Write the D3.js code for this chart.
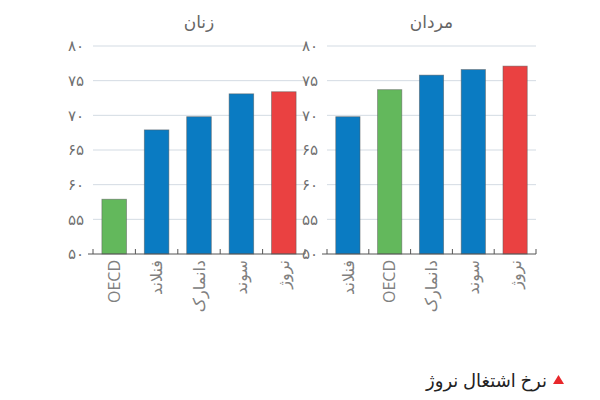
<!DOCTYPE html>
<html><head><meta charset="utf-8">
<script src="https://cdn.jsdelivr.net/npm/d3@7"></script>
<style>
body{margin:0;background:#fff;}
svg{display:block;font-family:"Open Sans","DejaVu Sans",sans-serif;}
</style></head>
<body><svg id="c" width="600" height="400"></svg>
<script>
const womenCategories = ["OECD","فنلاند","دانمارک","سوند","نروژ"];
const womenValues = [57.9, 67.9, 69.8, 73.1, 73.4];
const menCategories = ["فنلاند","OECD","دانمارک","سوند","نروژ"];
const menValues = [69.8, 73.7, 75.8, 76.6, 77.1];
const yTicks = [50,55,60,65,70,75,80];
const yTickLabels = ["۵۰","۵۵","۶۰","۶۵","۷۰","۷۵","۸۰"];
const panelTitles = ["زنان","مردان"];
const legendText = "نرخ اشتغال نروژ";

const colorFor = c => c === "OECD" ? "#63b85c" : (c === "نروژ" ? "#ea4141" : "#0a7bc2");
const svg = d3.select("#c");
const y = d3.scaleLinear().domain([50,80]).range([254,46]);

function panel(x0, x1, cats, vals, title){
  const x = d3.scaleBand().domain(cats).range([x0,x1]).paddingInner(0.42).paddingOuter(0.21);
  const g = svg.append("g");
  g.selectAll("line.grid").data(yTicks.slice(1)).join("line")
    .attr("x1",x0).attr("x2",x1).attr("y1",d=>y(d)).attr("y2",d=>y(d))
    .attr("stroke","#d3dbe3").attr("stroke-width",1);
  g.selectAll("text.yl").data(yTicks).join("text")
    .attr("x",x0-9).attr("y",d=>y(d)).attr("dy","0.35em")
    .attr("text-anchor","end").attr("font-size",15).attr("fill","#707070")
    .text((d,i)=>yTickLabels[i]);
  g.selectAll("rect").data(cats).join("rect")
    .attr("x",d=>x(d)).attr("width",x.bandwidth())
    .attr("y",(d,i)=>y(vals[i])).attr("height",(d,i)=>y(50)-y(vals[i]))
    .attr("fill",d=>colorFor(d)).attr("stroke","#5a5a5a").attr("stroke-opacity",0.6).attr("stroke-width",0.8);
  g.append("line").attr("x1",x0-5).attr("x2",x1).attr("y1",y(50)).attr("y2",y(50))
    .attr("stroke","#555").attr("stroke-width",1);
  const bounds = d3.range(cats.length+1).map(i=>x0 + i*(x1-x0)/cats.length);
  g.selectAll("line.tk").data(bounds).join("line")
    .attr("x1",d=>d).attr("x2",d=>d).attr("y1",y(50)).attr("y2",y(50)-5)
    .attr("stroke","#555").attr("stroke-width",1);
  g.selectAll("text.cl").data(cats).join("text")
    .attr("transform",d=>`translate(${x(d)+x.bandwidth()/2},${y(50)+6}) rotate(-90)`)
    .attr("text-anchor","end").attr("dy","0.35em")
    .attr("font-size",16).attr("fill","#808080")
    .text(d=>d);
  g.append("text").attr("x",(x0+x1)/2).attr("y",28).attr("text-anchor","middle")
    .attr("font-size",17).attr("fill","#666").text(title);
}
panel(93,305,womenCategories,womenValues,panelTitles[0]);
panel(327,536,menCategories,menValues,panelTitles[1]);

svg.append("path").attr("d","M553,384 L564,384 L558.5,375 Z").attr("fill","#e8272b");
svg.append("text").attr("x",547).attr("y",387).attr("text-anchor","end")
  .attr("font-size",18).attr("fill","#222").text(legendText);
</script></body></html>
